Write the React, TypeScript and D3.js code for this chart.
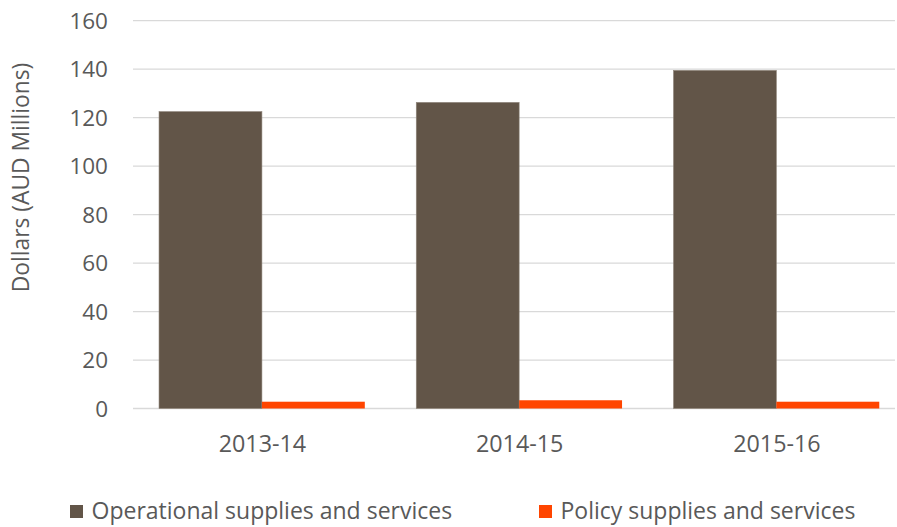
import React from "react";
import * as d3 from "d3";

const categories = ["2013-14", "2014-15", "2015-16"];
const seriesNames = ["Operational supplies and services", "Policy supplies and services"];
const operational = [122.5, 126.3, 139.5];
const policy = [2.8, 3.4, 2.8];
const yTicks = [0, 20, 40, 60, 80, 100, 120, 140, 160];
const colors = ["#625548", "#FF4500"];

const W = 897;
const H = 527;
const FONT = "'Open Sans', 'Noto Sans', sans-serif";
const TEXT = "#595959";

export default function App() {
  const x = d3.scaleBand<string>().domain(categories).range([133.3, 905]).paddingInner(0).paddingOuter(0);
  const inner = d3.scaleBand<number>().domain([0, 1]).range([0, x.bandwidth()]).paddingOuter(0.25).paddingInner(0);
  const y = d3.scaleLinear().domain([0, 160]).range([408.5, 20.7]);
  const series = [operational, policy];

  return (
    <svg width={W} height={H} style={{ position: "absolute", left: 0, top: 0, background: "#fff" }}>
      <rect x={0} y={0} width={W} height={H} fill="#fff" />
      {yTicks.map((t) => (
        <g key={t}>
          <line x1={133} x2={895} y1={y(t)} y2={y(t)} stroke="#d9d9d9" strokeWidth={1.3} />
          <text x={108} y={y(t)} dy="0.36em" textAnchor="end" fontFamily={FONT} fontSize={22.5} fill={TEXT}>
            {t}
          </text>
        </g>
      ))}
      {categories.map((c, i) => (
        <g key={c}>
          {series.map((s, j) => (
            <rect
              key={j}
              x={(x(c) as number) + (inner(j) as number)}
              y={y(s[i])}
              width={inner.bandwidth()}
              height={y(0) - y(s[i])}
              fill={colors[j]}
              stroke={j === 0 ? "#8f857b" : "none"}
              strokeWidth={0.6}
            />
          ))}
          <text
            x={(x(c) as number) + x.bandwidth() / 2 + 0.5}
            y={452}
            textAnchor="middle"
            fontFamily={FONT}
            fontSize={23.3}
            fill={TEXT}
          >
            {c}
          </text>
        </g>
      ))}
      <text
        transform={`translate(29,177.5) rotate(-90)`}
        textAnchor="middle"
        fontFamily={FONT}
        fontSize={22.8}
        fill={TEXT}
      >
        Dollars (AUD Millions)
      </text>
      {seriesNames.map((n, j) => {
        const lx = j === 0 ? 70 : 539;
        return (
          <g key={n}>
            <rect x={lx} y={505} width={13} height={13} fill={colors[j]} />
            <text x={lx + 21.5} y={519} fontFamily={FONT} fontSize={23} fill={TEXT}>
              {n}
            </text>
          </g>
        );
      })}
    </svg>
  );
}
